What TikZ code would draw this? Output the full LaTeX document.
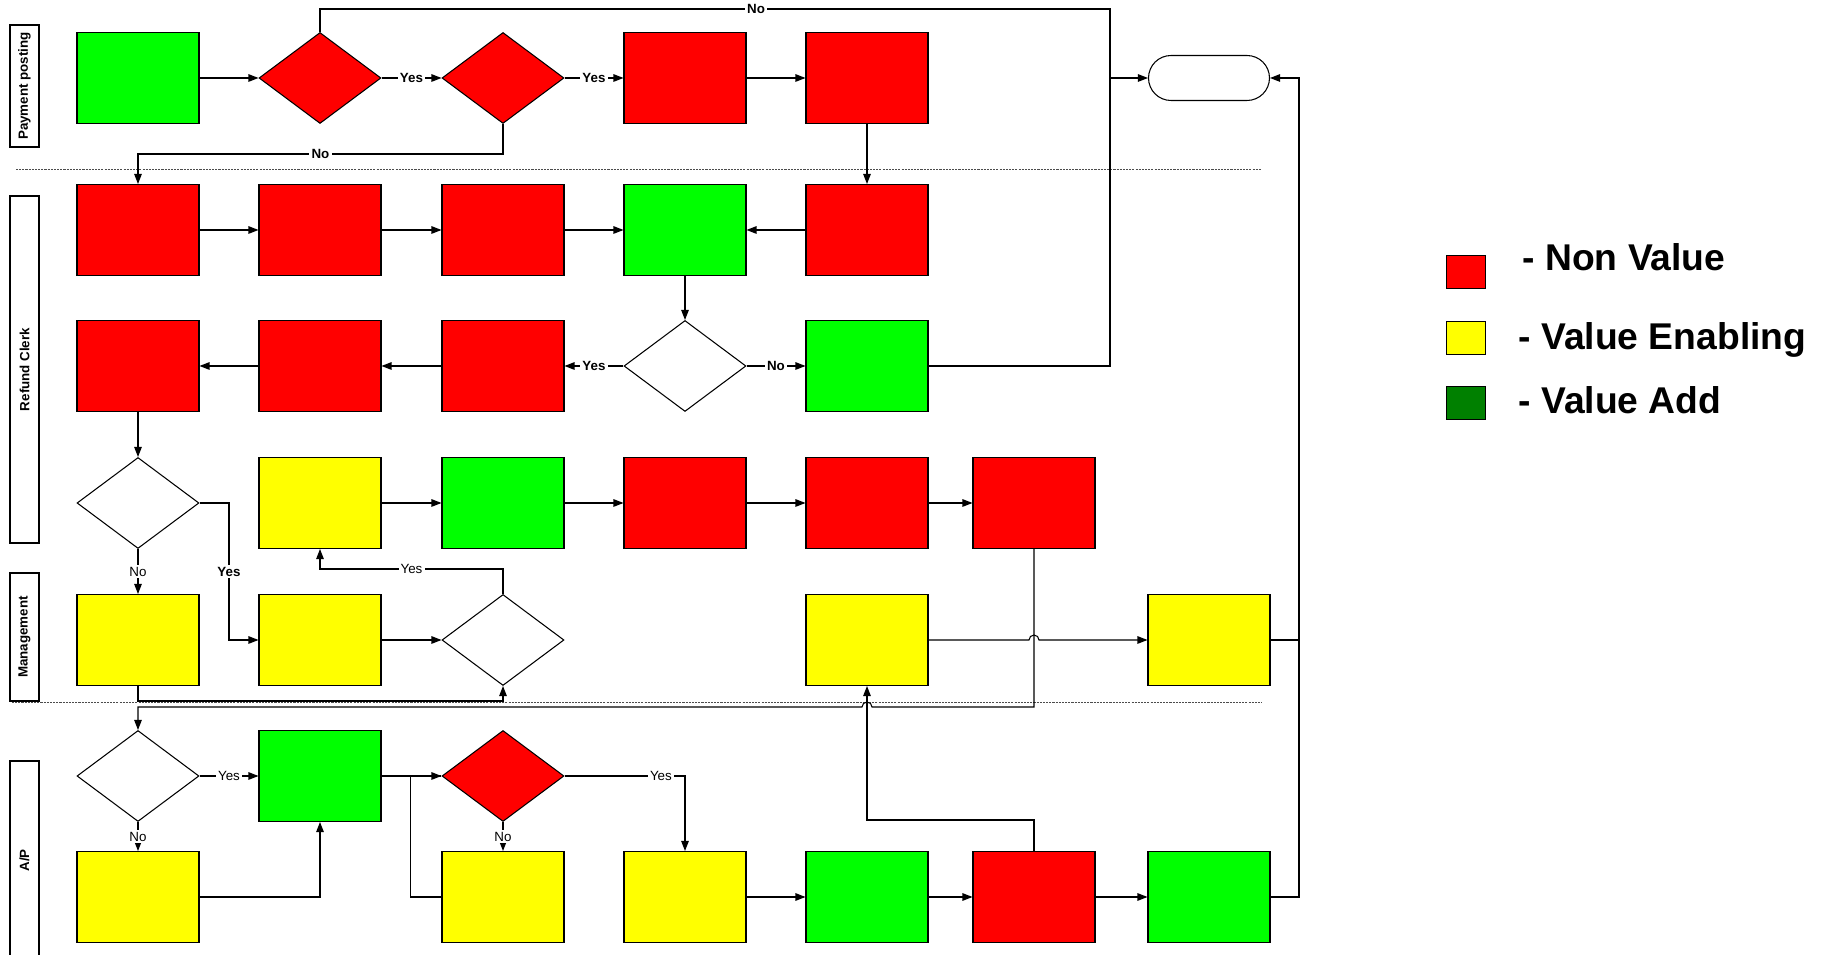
\documentclass[tikz,border=0pt]{standalone}
\usepackage{fontspec}
\setmainfont{Liberation Sans}
\usetikzlibrary{arrows.meta,positioning,calc,shapes.geometric}

\definecolor{nvred}{RGB}{255,0,0}
\definecolor{enyellow}{RGB}{255,255,0}
\definecolor{addgreen}{RGB}{0,255,0}
\definecolor{keygreen}{RGB}{0,128,0}

\begin{document}
\begin{tikzpicture}[x=0.02cm, y=-0.02cm, line width=0.6pt,
  task/.style={draw, minimum width=2.44cm, minimum height=1.82cm, inner sep=0pt},
  test/.style={draw, diamond, minimum width=2.44cm, minimum height=1.82cm, inner sep=0pt},
  stop/.style={draw, fill=white, rounded corners=0.45cm, minimum width=2.42cm, minimum height=0.9cm, inner sep=0pt},
  lane/.style={draw, fill=white, rotate=90, line width=0.8pt, minimum height=0.58cm, inner sep=0pt, font=\fontsize{7.6}{9}\selectfont\bfseries},
  sep/.style={black!70, line width=0.5pt, dash pattern=on 1.2pt off 0.6pt},
  flow/.style={-{Triangle[length=0.2cm, width=0.15cm]}},
  lbl/.style={fill=white, inner sep=1.2pt, font=\fontsize{7.6}{9}\selectfont},
  blbl/.style={lbl, font=\fontsize{7.6}{9}\selectfont\bfseries},
  key/.style={draw, line width=0.9pt, minimum width=0.78cm, minimum height=0.66cm, inner sep=0pt},
  keytext/.style={anchor=base west, inner sep=0pt, font=\fontsize{21.2}{24}\selectfont\bfseries}]
  \fill[white] (0,0) rectangle (1827,955);
  \useasboundingbox (0,0) rectangle (1827,955);

  % lanes
  \node[lane, minimum width=2.44cm] (lpay) at (24.5,86) {Payment posting};
  \node[lane, minimum width=6.94cm] (lref) at (24.5,369.5) {Refund Clerk};
  \node[lane, minimum width=2.56cm] (lmgt) at (24.5,637) {Management};
  \node[lane, minimum width=3.98cm] (lap) at (24.5,860.5) {A/P};
  \draw[sep] (16,169) -- (1262,169);
  \draw[sep] (12,702) -- (1262,702);

  % payment posting
  \node[task, fill=addgreen] (pp1) at (138,78) {};
  \node[test, fill=nvred] (ppq1) at (320,78) {};
  \node[test, fill=nvred] (ppq2) at (503,78) {};
  \node[task, fill=nvred] (pp2) at (685,78) {};
  \node[task, fill=nvred] (pp3) at (867,78) {};
  \node[stop] (done) at (1209,78) {};

  % refund clerk
  \node[task, fill=nvred] (rc1) at (138,230) {};
  \node[task, fill=nvred] (rc2) at (320,230) {};
  \node[task, fill=nvred] (rc3) at (503,230) {};
  \node[task, fill=addgreen] (rc4) at (685,230) {};
  \node[task, fill=nvred] (rc5) at (867,230) {};
  \node[task, fill=nvred] (rc6) at (138,366) {};
  \node[task, fill=nvred] (rc7) at (320,366) {};
  \node[task, fill=nvred] (rc8) at (503,366) {};
  \node[test, fill=white] (rcq1) at (685,366) {};
  \node[task, fill=addgreen] (rc9) at (867,366) {};
  \node[test, fill=white] (rcq2) at (138,503) {};
  \node[task, fill=enyellow] (rc10) at (320,503) {};
  \node[task, fill=addgreen] (rc11) at (503,503) {};
  \node[task, fill=nvred] (rc12) at (685,503) {};
  \node[task, fill=nvred] (rc13) at (867,503) {};
  \node[task, fill=nvred] (rc14) at (1034,503) {};

  % management
  \node[task, fill=enyellow] (mg1) at (138,640) {};
  \node[task, fill=enyellow] (mg2) at (320,640) {};
  \node[test, fill=white] (mgq) at (503,640) {};
  \node[task, fill=enyellow] (mg3) at (867,640) {};
  \node[task, fill=enyellow] (mg4) at (1209,640) {};

  % A/P
  \node[test, fill=white] (apq1) at (138,776) {};
  \node[task, fill=addgreen] (ap1) at (320,776) {};
  \node[test, fill=nvred] (apq2) at (503,776) {};
  \node[task, fill=enyellow] (ap2) at (138,897) {};
  \node[task, fill=enyellow] (ap3) at (503,897) {};
  \node[task, fill=enyellow] (ap4) at (685,897) {};
  \node[task, fill=addgreen] (ap5) at (867,897) {};
  \node[task, fill=nvred] (ap6) at (1034,897) {};
  \node[task, fill=addgreen] (ap7) at (1209,897) {};

  \coordinate (jtop) at (1110,9);
  \coordinate (ppno) at (138,154);
  \coordinate (rcyes) at (229,503);
  \coordinate (jright) at (1299,78);
  \coordinate (bus) at (138,707);

  \draw[flow] (pp1) -- (ppq1);
  \draw[flow] (ppq1) -- node[blbl]{Yes} (ppq2);
  \draw[flow] (ppq2) -- node[blbl]{Yes} (pp2);
  \draw[flow] (pp2) -- (pp3);
  \draw[flow] (ppq1) |- node[blbl, pos=0.776]{No} (jtop) |- (done);
  \draw[flow] (ppq2) |- node[blbl, pos=0.75]{No} (ppno) -- (rc1);
  \draw[flow] (pp3) -- (rc5);

  \draw[flow] (rc1) -- (rc2);
  \draw[flow] (rc2) -- (rc3);
  \draw[flow] (rc3) -- (rc4);
  \draw[flow] (rc5) -- (rc4);
  \draw[flow] (rc4) -- (rcq1);
  \draw[flow] (rcq1) -- node[blbl]{Yes} (rc8);
  \draw[flow] (rcq1) -- node[blbl]{No} (rc9);
  \draw (rc9) -| (jtop);
  \draw[flow] (rc8) -- (rc7);
  \draw[flow] (rc7) -- (rc6);
  \draw[flow] (rc6) -- (rcq2);
  \draw[flow] (rc10) -- (rc11);
  \draw[flow] (rc11) -- (rc12);
  \draw[flow] (rc12) -- (rc13);
  \draw[flow] (rc13) -- (rc14);
  \draw[flow] (rcq2) -- (rcyes) |- node[blbl, pos=0.25]{Yes} (mg2);
  \draw[flow] (rcq2) -- node[lbl]{No} (mg1);

  \draw[flow] (mg2) -- (mgq);
  \draw[flow] (mgq) |- node[lbl, pos=0.75]{Yes} ($(rc10.south)+(0,20)$) -- (rc10);
  \draw[flow] (mg1) |- ($(mgq.south)+(0,15)$) -- (mgq);
  \draw[flow] (mg3) -- ($(rc14 |- mg3)+(-5,0)$) arc[start angle=180, end angle=0, radius=0.1cm] -- (mg4);
  \draw (mg4) -- (mg4 -| jright);
  \draw[flow] (rc14) |- ($(mg3 |- bus)+(5,0)$) arc[start angle=0, end angle=180, radius=0.1cm] -- (bus) -- (apq1);

  \draw[flow] (apq1) -- node[lbl]{Yes} (ap1);
  \draw[flow] (apq1) -- node[lbl]{No} (ap2);
  \draw[flow] (ap2) -| (ap1);
  \draw[flow] (ap1) -- (apq2);
  \draw (ap3) -| ($(apq2.west)+(-31,0)$) -- (apq2);
  \draw[flow] (apq2) -- node[lbl]{No} (ap3);
  \draw[flow] (apq2) -| node[lbl, pos=0.4]{Yes} (ap4);
  \draw[flow] (ap4) -- (ap5);
  \draw[flow] (ap5) -- (ap6);
  \draw[flow] (ap6) -- (ap7);
  \draw[flow] (ap6) -- ($(ap6.north)+(0,-31)$) -| (mg3);
  \draw[flow] (ap7) -| (jright) -- (done);

  % key
  \node[key, fill=nvred] (knv) at (1466,272) {};
  \node[key, fill=enyellow] (ken) at (1466,338) {};
  \node[key, fill=keygreen] (kad) at (1466,403) {};
  \node[keytext] (tnv) at (1522,271) {- Non Value};
  \node[keytext] (ten) at (1518,350) {- Value Enabling};
  \node[keytext] (tad) at (1518,414) {- Value Add};
\end{tikzpicture}
\end{document}
